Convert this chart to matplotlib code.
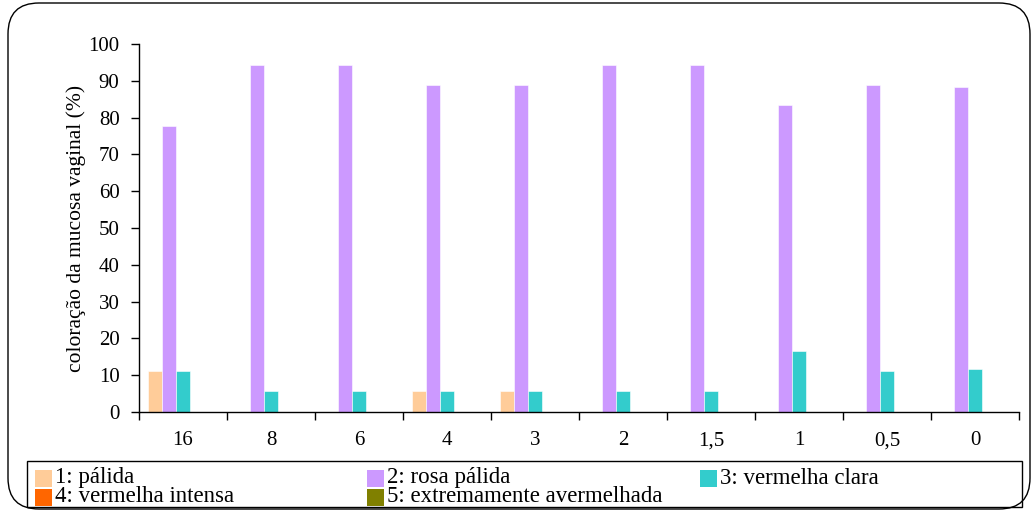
import matplotlib
matplotlib.use("Agg")
import matplotlib.pyplot as plt
import numpy as np
from matplotlib.patches import FancyBboxPatch, Rectangle

categories = ["16", "8", "6", "4", "3", "2", "1,5", "1", "0,5", "0"]
series_names = ["1: pálida", "2: rosa pálida", "3: vermelha clara",
                "4: vermelha intensa", "5: extremamente avermelhada"]
palida = [11.1, 0, 0, 5.6, 5.6, 0, 0, 0, 0, 0]
rosa_palida = [77.8, 94.4, 94.4, 88.9, 88.9, 94.4, 94.4, 83.3, 88.9, 88.2]
vermelha_clara = [11.1, 5.6, 5.6, 5.6, 5.6, 5.6, 5.6, 16.7, 11.1, 11.8]
vermelha_intensa = [0, 0, 0, 0, 0, 0, 0, 0, 0, 0]
extrem_avermelhada = [0, 0, 0, 0, 0, 0, 0, 0, 0, 0]
colors = ["#FFCC99", "#CC99FF", "#33CCCC", "#FF6600", "#808000"]

plt.rcParams['font.family'] = ['Liberation Serif', 'DejaVu Serif']

W, H = 1033, 512
fig = plt.figure(figsize=(W/100, H/100), dpi=100)
ax = fig.add_axes([139/W, 1-412/H, 880/W, 368/H])

all_series = [palida, rosa_palida, vermelha_clara, vermelha_intensa, extrem_avermelhada]
x = np.arange(len(categories))
w = 14/88
for i, (vals, c) in enumerate(zip(all_series, colors)):
    ax.bar(x + (i - 2) * w, vals, width=w, color=c, edgecolor="white", linewidth=0.4)

ax.set_xlim(-0.5, len(categories) - 0.5)
ax.set_ylim(0, 100)
ax.set_yticks(np.arange(0, 101, 10))
ax.set_xticks(x)
ax.set_xticklabels(categories)
ax.set_xticks(np.arange(-0.5, len(categories), 1), minor=True)
ax.tick_params(axis='x', which='major', length=0, pad=14, labelsize=15)
ax.tick_params(axis='x', which='minor', length=6, width=1)
ax.tick_params(axis='y', length=6, width=1, labelsize=15, pad=8)
for s in ["top", "right"]:
    ax.spines[s].set_visible(False)
for s in ["left", "bottom"]:
    ax.spines[s].set_linewidth(1)
ax.set_ylabel("coloração da mucosa vaginal (%)", fontsize=15.5, labelpad=2)

# legend box and entries (row-wise: 1,2,3 / 4,5)
fig.patches.append(Rectangle((27/W, 1-507/H), 995/W, 46/H, transform=fig.transFigure,
                             fill=False, edgecolor="black", linewidth=1))
col_x = [35, 367, 700]
row_y = [478, 497]
for k, (name, c) in enumerate(zip(series_names, colors)):
    r, col = divmod(k, 3)
    px, py = col_x[col], row_y[r]
    fig.patches.append(Rectangle((px/W, 1-(py+8.5)/H), 17/W, 17/H,
                                 transform=fig.transFigure, facecolor=c, edgecolor="none"))
    fig.text((px+20)/W, 1-py/H, name, fontsize=16.5, va="center", ha="left")

border = FancyBboxPatch((8/W, 3/H), 1022/W, 506/H,
                        boxstyle="round,pad=0,rounding_size=0.03",
                        transform=fig.transFigure, fill=False, edgecolor="black",
                        linewidth=1, mutation_aspect=W/H)
fig.patches.append(border)

fig.savefig("out.png", dpi=100)
